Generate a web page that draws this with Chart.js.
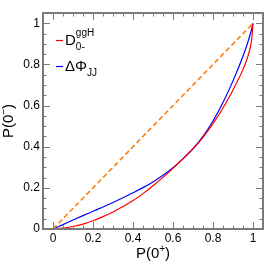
<!DOCTYPE html>
<html>
<head>
<meta charset="utf-8">
<script src="https://cdn.jsdelivr.net/npm/chart.js@4.4.1/dist/chart.umd.min.js"></script>
<style>
  html, body { margin: 0; padding: 0; background: #fff; }
  #roc { display: block; }
</style>
</head>
<body>
<canvas id="roc" width="274" height="263"></canvas>
<script>
// ROC curves: P(0-) vs P(0+), two discriminants plus the random diagonal
var xVals    = [0, 0.05, 0.1, 0.15, 0.2, 0.25, 0.3, 0.35, 0.4, 0.45, 0.5, 0.55, 0.6, 0.65, 0.7, 0.75, 0.8, 0.85, 0.9, 0.95, 0.97, 0.99, 0.995, 1];
var dphiVals = [0, 0.0215, 0.0435, 0.065, 0.086, 0.107, 0.129, 0.152, 0.176, 0.201, 0.229, 0.261, 0.298, 0.341, 0.39, 0.45, 0.525, 0.615, 0.72, 0.84, 0.895, 0.96, 0.98, 1];
var d0mVals  = [0, 0.004, 0.012, 0.024, 0.04, 0.06, 0.083, 0.109, 0.138, 0.172, 0.21, 0.251, 0.295, 0.342, 0.39, 0.446, 0.512, 0.588, 0.676, 0.776, 0.826, 0.9, 0.937, 1];
var diagX = [0, 1];
var diagY = [0, 1];

var tickVals   = [0, 0.2, 0.4, 0.6, 0.8, 1];
var tickLabels = ['0', '0.2', '0.4', '0.6', '0.8', '1'];
var minorStep  = 0.05;

var FONT = '"Liberation Sans", Arial, Helvetica, sans-serif';
var FRAME = '#7a7a7a';

function pts(xs, ys) {
  return xs.map(function(x, i){ return {x: x, y: ys[i]}; });
}

// draw a run of text pieces (with sub/superscripts) starting at x, baseline y
function richWidth(ctx, parts) {
  var w = 0;
  parts.forEach(function(p){
    ctx.font = p.size + 'px ' + FONT;
    if (!p.stack) w += ctx.measureText(p.t).width;
  });
  return w;
}
function drawRich(ctx, parts, x, y) {
  var cx = x;
  parts.forEach(function(p){
    ctx.font = p.size + 'px ' + FONT;
    ctx.fillText(p.t, cx, y + (p.dy || 0));
    if (!p.stack) cx += ctx.measureText(p.t).width;
  });
}

// ROOT-style frame, inward ticks on all four sides, labels, titles, legend
var rootFrame = {
  id: 'rootFrame',
  afterDraw: function(chart) {
    var ctx = chart.ctx, a = chart.chartArea;
    var xs = chart.scales.x, ys = chart.scales.y;
    ctx.save();

    // ticks
    ctx.strokeStyle = FRAME;
    ctx.lineWidth = 1;
    ctx.beginPath();
    var v, px, py, len, isMajor;
    for (v = xs.min; v <= xs.max + 1e-9; v += minorStep) {
      isMajor = tickVals.some(function(t){ return Math.abs(t - v) < 1e-6; });
      len = isMajor ? 7 : 3.5;
      px = Math.round(xs.getPixelForValue(v)) + 0.5;
      ctx.moveTo(px, a.bottom); ctx.lineTo(px, a.bottom - len);
      ctx.moveTo(px, a.top);    ctx.lineTo(px, a.top + len);
    }
    for (v = ys.min; v <= ys.max + 1e-9; v += minorStep) {
      isMajor = tickVals.some(function(t){ return Math.abs(t - v) < 1e-6; });
      len = isMajor ? 7 : 3.5;
      py = Math.round(ys.getPixelForValue(v)) + 0.5;
      ctx.moveTo(a.left, py);  ctx.lineTo(a.left + len, py);
      ctx.moveTo(a.right, py); ctx.lineTo(a.right - len, py);
    }
    ctx.stroke();

    // frame
    ctx.lineWidth = 2;
    ctx.strokeRect(a.left, a.top, a.right - a.left, a.bottom - a.top);

    // tick labels
    ctx.fillStyle = '#000';
    ctx.font = '12px ' + FONT;
    ctx.textBaseline = 'middle';
    ctx.textAlign = 'center';
    tickVals.forEach(function(t, i){
      ctx.fillText(tickLabels[i], xs.getPixelForValue(t), a.bottom + 10);
    });
    ctx.textAlign = 'right';
    tickVals.forEach(function(t, i){
      ctx.fillText(tickLabels[i], a.left - 3, ys.getPixelForValue(t));
    });

    // axis titles
    ctx.textAlign = 'left';
    ctx.textBaseline = 'alphabetic';
    var xTitle = [{t: 'P(0', size: 15}, {t: '+', size: 10, dy: -6}, {t: ')', size: 15}];
    var w = richWidth(ctx, xTitle);
    drawRich(ctx, xTitle, (a.left + a.right) / 2 - w / 2, 258);

    var yTitle = [{t: 'P(0', size: 15}, {t: '\u2212', size: 10, dy: -6}, {t: ')', size: 15}];
    w = richWidth(ctx, yTitle);
    ctx.save();
    ctx.translate(13, (a.top + a.bottom) / 2);
    ctx.rotate(-Math.PI / 2);
    drawRich(ctx, yTitle, -w / 2, 0);
    ctx.restore();

    // legend
    ctx.lineWidth = 1.2;
    ctx.strokeStyle = '#ff0000';
    ctx.beginPath(); ctx.moveTo(56, 40.5); ctx.lineTo(63, 40.5); ctx.stroke();
    ctx.strokeStyle = '#0000ff';
    ctx.beginPath(); ctx.moveTo(56, 66.5); ctx.lineTo(63, 66.5); ctx.stroke();

    drawRich(ctx, [
      {t: 'D', size: 15},
      {t: 'ggH', size: 10, dy: -9, stack: true},
      {t: '0-', size: 10, dy: 5}
    ], 65, 45);
    drawRich(ctx, [
      {t: '\u0394\u03a6', size: 15},
      {t: 'JJ', size: 10, dy: 5}
    ], 65, 71);

    ctx.restore();
  }
};

new Chart(document.getElementById('roc').getContext('2d'), {
  type: 'scatter',
  data: {
    datasets: [
      {
        label: 'Random',
        data: pts(diagX, diagY),
        showLine: true,
        borderColor: '#ff7f0e',
        borderWidth: 1.6,
        borderDash: [5, 3],
        pointRadius: 0,
        clip: false
      },
      {
        label: 'D0-ggH',
        data: pts(xVals, d0mVals),
        showLine: true,
        borderColor: '#ff0000',
        borderWidth: 1.2,
        pointRadius: 0,
        cubicInterpolationMode: 'monotone',
        clip: false
      },
      {
        label: 'dPhiJJ',
        data: pts(xVals, dphiVals),
        showLine: true,
        borderColor: '#0000ff',
        borderWidth: 1.2,
        pointRadius: 0,
        cubicInterpolationMode: 'monotone',
        clip: false
      }
    ]
  },
  options: {
    responsive: false,
    animation: false,
    events: [],
    layout: { padding: { left: 43, top: 13, right: 11, bottom: 34 } },
    plugins: {
      legend: { display: false },
      tooltip: { enabled: false }
    },
    scales: {
      x: { type: 'linear', min: -0.05, max: 1.05, display: false },
      y: { type: 'linear', min: 0, max: 1.05, display: false }
    }
  },
  plugins: [rootFrame]
});
</script>
</body>
</html>
